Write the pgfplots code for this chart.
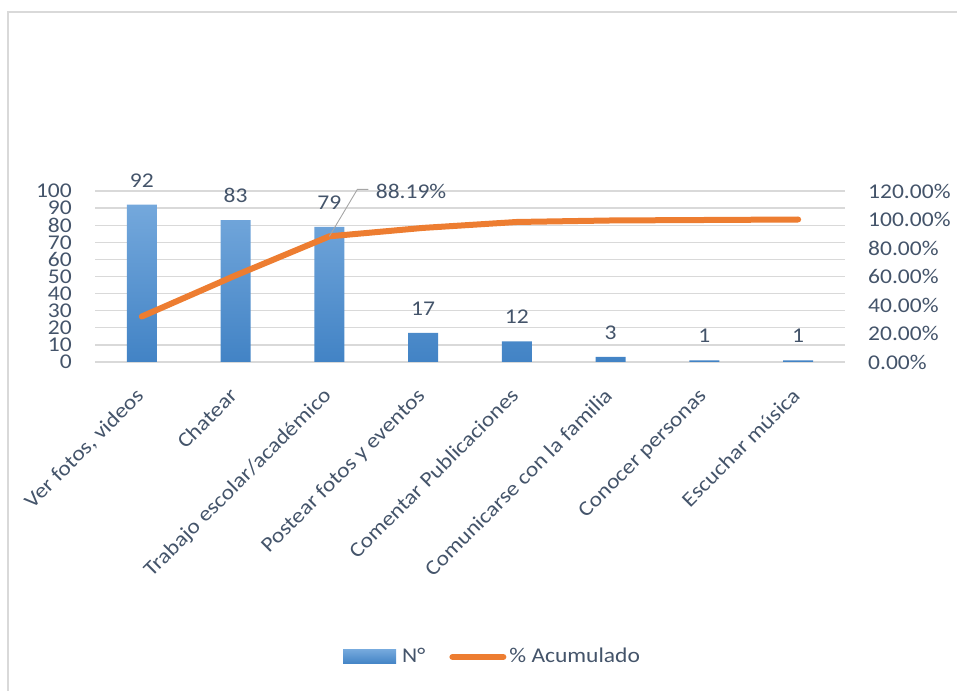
\documentclass[border=0pt]{standalone}
\usepackage{pgfplots}
\pgfplotsset{compat=1.18}
\usepackage{fontspec}
\setmainfont{Carlito}[FakeStretch=1.12]
\definecolor{textc}{HTML}{44546A}
\definecolor{gridc}{HTML}{D9D9D9}
\definecolor{barTop}{HTML}{74A8DC}
\definecolor{barBot}{HTML}{4283C5}
\definecolor{lineC}{HTML}{ED7D31}
\definecolor{leadC}{HTML}{A6A6A6}
\begin{document}
\fontsize{21bp}{24bp}\selectfont\color{textc}%
\begin{tikzpicture}
\useasboundingbox (0,0) rectangle (957bp,691bp);
\draw[gridc, line width=1.5bp] (8bp,0) -- (8bp,679bp) -- (957bp,679bp);
\begin{axis}[
  at={(95bp,329bp)}, anchor=south west,
  scale only axis, width=750bp, height=171bp,
  /pgf/number format/assume math mode=true,
  ybar, bar width=30bp,
  xmin=-0.5, xmax=7.5, ymin=0, ymax=100,
  ytick={0,10,...,100},
  xtick={0,...,7},
  xticklabels={{Ver fotos, videos}, Chatear, Trabajo escolar/académico, Postear fotos y eventos, Comentar Publicaciones, Comunicarse con la familia, Conocer personas, Escuchar música},
  xticklabel style={xshift=3bp, yshift=-35bp, rotate=45, anchor=base east, inner sep=0pt, text=textc},
  yticklabel style={anchor=east, inner sep=0pt, xshift=-23bp, text=textc},
  major tick length=0pt,
  axis line style={draw=none},
  ymajorgrids, grid style={gridc, line width=1.3bp},
  nodes near coords,
  nodes near coords style={anchor=base, inner sep=0pt, yshift=17.5bp, text=textc},
  clip=false,
]
\addplot[draw=none, top color=barTop, bottom color=barBot] coordinates {(0,92) (1,83) (2,79) (3,17) (4,12) (5,3) (6,1) (7,1)};
\end{axis}
\begin{axis}[
  at={(95bp,329bp)}, anchor=south west,
  scale only axis, width=750bp, height=171bp,
  /pgf/number format/assume math mode=true,
  xmin=-0.5, xmax=7.5, ymin=0, ymax=120,
  axis y line*=right, axis x line=none,
  axis line style={draw=none},
  ytick={0,20,...,120},
  yticklabel={\pgfmathprintnumber[fixed,fixed zerofill,precision=2]{\tick}\%},
  yticklabel style={anchor=west, inner sep=0pt, xshift=23bp, text=textc},
  major tick length=0pt,
  clip=false,
  legend columns=2,
  legend style={at={(0.5287,-1.725)}, anchor=center, draw=none, fill=none,
    nodes={inner sep=0pt, text=textc},
    /tikz/every even column/.append style={column sep=24bp},
    /tikz/every odd column/.append style={column sep=3bp}},
]
\addlegendimage{legend image code/.code={\path[draw=none, top color=barTop, bottom color=barBot] (0bp,-7bp) rectangle (53bp,7bp); \path (56bp,0bp);}}
\addlegendentry{N°}
\addplot[lineC, line width=6bp, line cap=round, line join=round,
  legend image code/.code={\draw[lineC, line width=6.5bp, line cap=round] (3.25bp,0bp) -- (53.75bp,0bp);}]
  coordinates {(0,31.94) (1,60.76) (2,88.19) (3,94.10) (4,98.26) (5,99.31) (6,99.65) (7,100)};
\addlegendentry{\% Acumulado}
\draw[leadC, line width=0.9bp] (axis cs:2,88.19) -- ++(28bp,47bp) -- ++(11bp,0bp) node[anchor=base west, inner sep=0pt, xshift=7bp, yshift=-9bp, text=textc] {88.19\%};
\end{axis}
\end{tikzpicture}
\end{document}
